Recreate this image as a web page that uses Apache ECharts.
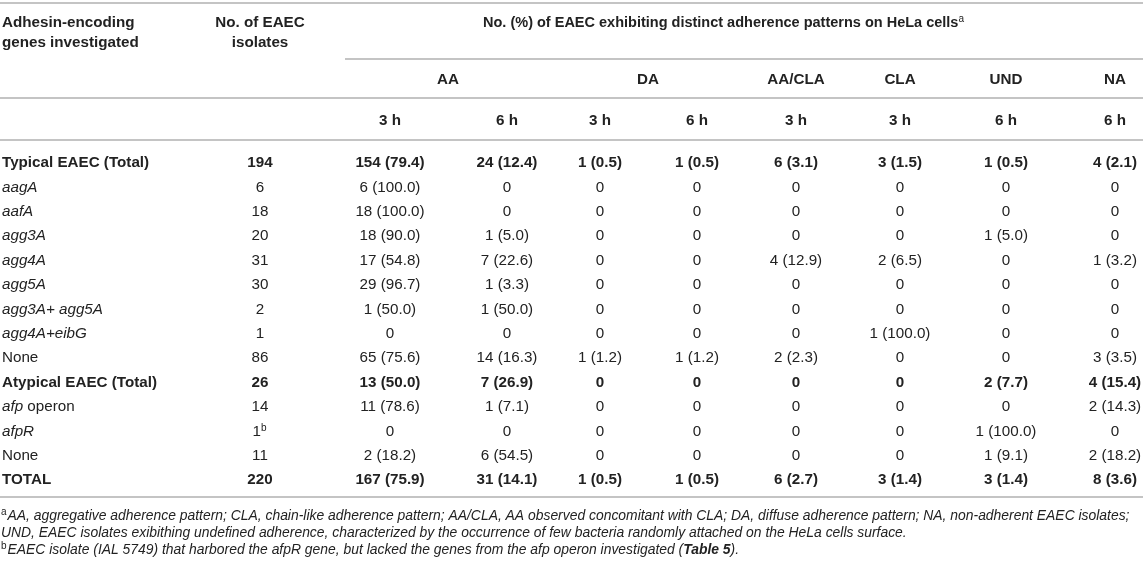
<!DOCTYPE html>
<html>
<head>
<meta charset="utf-8">
<script src="https://cdn.jsdelivr.net/npm/echarts@6/dist/echarts.min.js"></script>
<style>
    html, body { margin: 0; padding: 0; background: #fff; }
    #main { width: 1143px; height: 564px; }
</style>
</head>
<body>
<div id="main"></div>
<script>
// table data
var rowLabels = ['Typical EAEC (Total)', '{i|aagA}', '{i|aafA}', '{i|agg3A}', '{i|agg4A}', '{i|agg5A}',
    '{i|agg3A+ agg5A}', '{i|agg4A+eibG}', 'None', 'Atypical EAEC (Total)', '{i|afp} operon', '{i|afpR}', 'None', 'TOTAL'];
var boldRows = [0, 9, 13];
var isolates = ['194', '6', '18', '20', '31', '30', '2', '1', '86', '26', '14', '1{sup|b}', '11', '220'];
var aa3h = ['154 (79.4)', '6 (100.0)', '18 (100.0)', '18 (90.0)', '17 (54.8)', '29 (96.7)', '1 (50.0)', '0', '65 (75.6)', '13 (50.0)', '11 (78.6)', '0', '2 (18.2)', '167 (75.9)'];
var aa6h = ['24 (12.4)', '0', '0', '1 (5.0)', '7 (22.6)', '1 (3.3)', '1 (50.0)', '0', '14 (16.3)', '7 (26.9)', '1 (7.1)', '0', '6 (54.5)', '31 (14.1)'];
var da3h = ['1 (0.5)', '0', '0', '0', '0', '0', '0', '0', '1 (1.2)', '0', '0', '0', '0', '1 (0.5)'];
var da6h = ['1 (0.5)', '0', '0', '0', '0', '0', '0', '0', '1 (1.2)', '0', '0', '0', '0', '1 (0.5)'];
var aacla3h = ['6 (3.1)', '0', '0', '0', '4 (12.9)', '0', '0', '0', '2 (2.3)', '0', '0', '0', '0', '6 (2.7)'];
var cla3h = ['3 (1.5)', '0', '0', '0', '2 (6.5)', '0', '0', '1 (100.0)', '0', '0', '0', '0', '0', '3 (1.4)'];
var und6h = ['1 (0.5)', '0', '0', '1 (5.0)', '0', '0', '0', '0', '0', '2 (7.7)', '0', '1 (100.0)', '1 (9.1)', '3 (1.4)'];
var na6h = ['4 (2.1)', '0', '0', '0', '1 (3.2)', '0', '0', '0', '3 (3.5)', '4 (15.4)', '2 (14.3)', '0', '2 (18.2)', '8 (3.6)'];

var headCol0 = ['Adhesin-encoding', 'genes investigated'];
var headCol1 = ['No. of EAEC', 'isolates'];
var spanTitle = 'No. (%) of EAEC exhibiting distinct adherence patterns on HeLa cells{sup|a}';
var groups = ['AA', 'DA', 'AA/CLA', 'CLA', 'UND', 'NA'];
var times = ['3 h', '6 h', '3 h', '6 h', '3 h', '3 h', '6 h', '6 h'];
var footnotes = [
    '{sup|a}{i|AA, aggregative adherence pattern; CLA, chain-like adherence pattern; AA/CLA, AA observed concomitant with CLA; DA, diffuse adherence pattern; NA, non-adherent EAEC isolates;}',
    '{i|UND, EAEC isolates exibithing undefined adherence, characterized by the occurrence of few bacteria randomly attached on the HeLa cells surface.}',
    '{sup|b}{i|EAEC isolate (IAL 5749) that harbored the afpR gene, but lacked the genes from the afp operon investigated (}{bi|Table 5}{i|).}'
];

// layout (pixel-like units of the hidden axes)
var colX = [2, 260, 390, 507, 600, 697, 796, 900, 1006, 1115];
var groupX = [448, 648, 796, 900, 1006, 1115];
var bodyTop = 163, rowStep = 24.4;
var rules = [[0, 1143, 3], [345, 1143, 59], [0, 1143, 98], [0, 1143, 140], [0, 1143, 497]];

var FAMILY = "'Liberation Sans', Arial, sans-serif";
function font(size, weight, style) {
    return (style || 'normal') + ' ' + (weight || 'normal') + ' ' + size + 'px ' + FAMILY;
}
function richFor(size) {
    return {
        i: { font: font(size, 'normal', 'italic') },
        bi: { font: font(size, 'bold', 'italic') },
        sup: { font: font(10), verticalAlign: 'top', padding: [0, 1, 7, 0] }
    };
}

// collect every text cell
var cells = [];
function addCell(x, y, text, align, bold, size) {
    cells.push({ x: x, y: y, text: text, align: align, bold: bold, size: size || 15.2 });
}
headCol0.forEach(function (t, i) { addCell(colX[0], 23 + i * 20, t, 'left', true); });
headCol1.forEach(function (t, i) { addCell(colX[1], 23 + i * 20, t, 'center', true); });
addCell(724, 23, spanTitle, 'center', true, 14.5);
groups.forEach(function (g, i) { addCell(groupX[i], 80, g, 'center', true); });
times.forEach(function (t, i) { addCell(colX[i + 2], 121, t, 'center', true); });

var columns = [isolates, aa3h, aa6h, da3h, da6h, aacla3h, cla3h, und6h, na6h];
rowLabels.forEach(function (lab, r) {
    var bold = boldRows.indexOf(r) >= 0;
    var y = bodyTop + r * rowStep;
    addCell(colX[0], y, lab, 'left', bold);
    columns.forEach(function (col, c) { addCell(colX[c + 1], y, col[r], 'center', bold); });
});
footnotes.forEach(function (t, i) { addCell(1, 516 + i * 17, t, 'left', false, 13.9); });

var chart = echarts.init(document.getElementById('main'));
chart.setOption({
    animation: false,
    grid: { left: 0, right: 0, top: 0, bottom: 0 },
    xAxis: { type: 'value', min: 0, max: 1143, show: false },
    yAxis: { type: 'value', min: 0, max: 564, inverse: true, show: false },
    series: [
        {
            type: 'custom',
            data: rules.map(function (r) { return [r[0], r[1], r[2]]; }),
            renderItem: function (params, api) {
                var a = api.coord([api.value(0), api.value(2)]);
                var b = api.coord([api.value(1), api.value(2)]);
                return {
                    type: 'line',
                    shape: { x1: a[0], y1: a[1], x2: b[0], y2: b[1] },
                    style: { stroke: '#c4c4c4', lineWidth: 2 }
                };
            }
        },
        {
            type: 'custom',
            data: cells.map(function (c, i) { return [c.x, c.y, i]; }),
            renderItem: function (params, api) {
                var c = cells[api.value(2)];
                var p = api.coord([api.value(0), api.value(1)]);
                return {
                    type: 'text',
                    x: p[0],
                    y: p[1],
                    style: {
                        text: c.text,
                        align: c.align,
                        verticalAlign: 'middle',
                        fill: '#222',
                        font: font(c.size, c.bold ? 'bold' : 'normal'),
                        rich: richFor(c.size)
                    }
                };
            }
        }
    ]
});
</script>
</body>
</html>
